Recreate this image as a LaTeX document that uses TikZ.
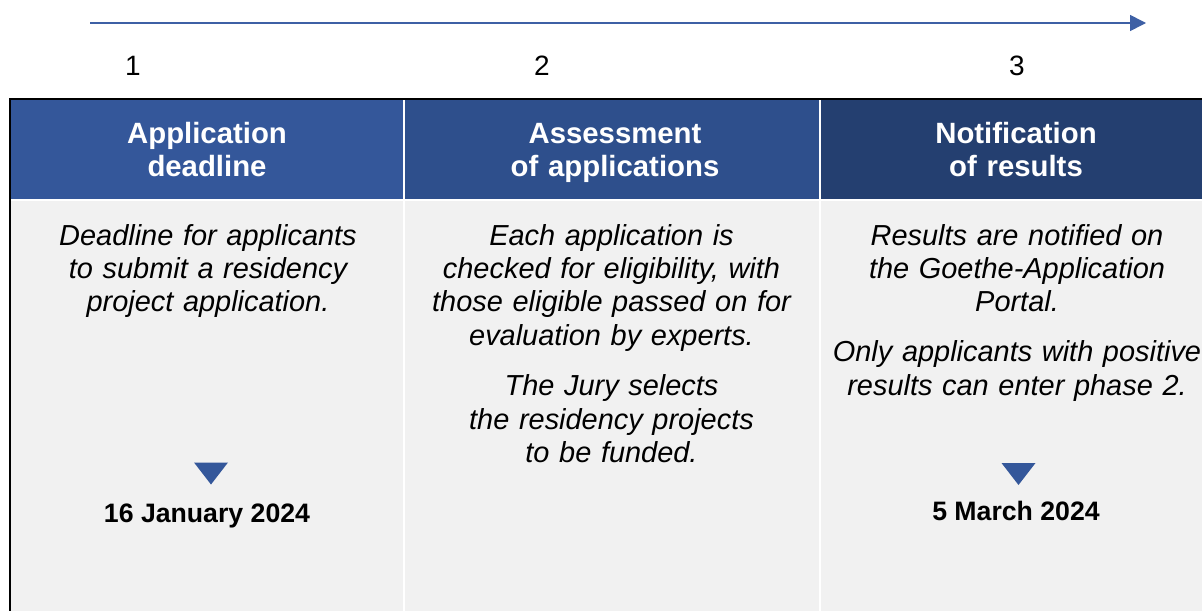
\documentclass[tikz,border=0pt]{standalone}
\usepackage{fontspec}
\setmainfont{Liberation Sans}
\usetikzlibrary{arrows.meta}
\definecolor{headA}{RGB}{52,87,154}
\definecolor{headB}{RGB}{46,79,140}
\definecolor{headC}{RGB}{36,63,112}
\definecolor{panel}{RGB}{241,241,241}
\definecolor{lineblue}{RGB}{62,96,165}
\newcommand{\datemark}[1]{%
  \fill[headA] (#1) ++(-17,-11) -- ++(34,0) -- ++(-17,22) -- cycle;
}

\begin{document}
\begin{tikzpicture}[
      x=0.75pt, y=-0.75pt,
      every node/.style={inner sep=0pt},
      stepnum/.style={font=\fontsize{21}{25}\selectfont, anchor=base},
      title/.style={font=\fontsize{22}{25}\selectfont\bfseries, text=white,
        align=center, text width=280pt, anchor=base},
      body/.style={font=\fontsize{21.7}{25}\selectfont\itshape,
        align=center, text width=290pt, anchor=base},
      when/.style={font=\fontsize{20}{24}\selectfont\bfseries, anchor=base}
    ]
      \clip (0,0) rectangle (1202,610);
      \fill[white] (0,0) rectangle (1202,610);
      % timeline
      \coordinate (tl start) at (90,23);
      \coordinate (tl end) at (1146,23);
      \draw[lineblue, line width=1.2pt, -{Triangle[length=12pt,width=12pt]}]
        (tl start) -- (tl end);
      \node[stepnum] (num1) at (133,75) {1};
      \node[stepnum] (num2) at (542,75) {2};
      \node[stepnum] (num3) at (1017,75) {3};
      % columns
      \fill[headA] (10,99) rectangle (403,199);
      \fill[headB] (405,99) rectangle (819,199);
      \fill[headC] (821,99) rectangle (1214,199);
      \fill[panel] (10,201) rectangle (403,620);
      \fill[panel] (405,201) rectangle (819,620);
      \fill[panel] (821,201) rectangle (1214,620);
      \draw[black, line width=1.5pt] (10,620) -- (10,98.5) -- (1214,98.5);
      % titles
      \node[title] (ttl1) at (207,143.5) {Application\\deadline};
      \node[title] (ttl2) at (615,143.5) {Assessment\\of applications};
      \node[title] (ttl3) at (1016,143.5) {Notification\\of results};
      % texts
      \node[body] (txt1) at (208,245)
        {Deadline for applicants\\to submit a residency\\project application.};
      \node[body] (txt2) at (611.5,245)
        {Each application is\\checked for eligibility, with\\those eligible passed on for\\evaluation by experts.\\[13pt]
         The Jury selects\\the residency projects\\to be funded.};
      \node[body] (txt3) at (1017,245)
        {Results are notified on\\the Goethe-Application\\Portal.\\[12.5pt]
         Only applicants with positive\\results can enter phase 2.};
      % dates
      \datemark{211,473.5}
      \datemark{1018.5,474}
      \node[when] (date1) at (207,522) {16 January 2024};
      \node[when] (date3) at (1016,520) {5 March 2024};
    \end{tikzpicture}
\end{document}
